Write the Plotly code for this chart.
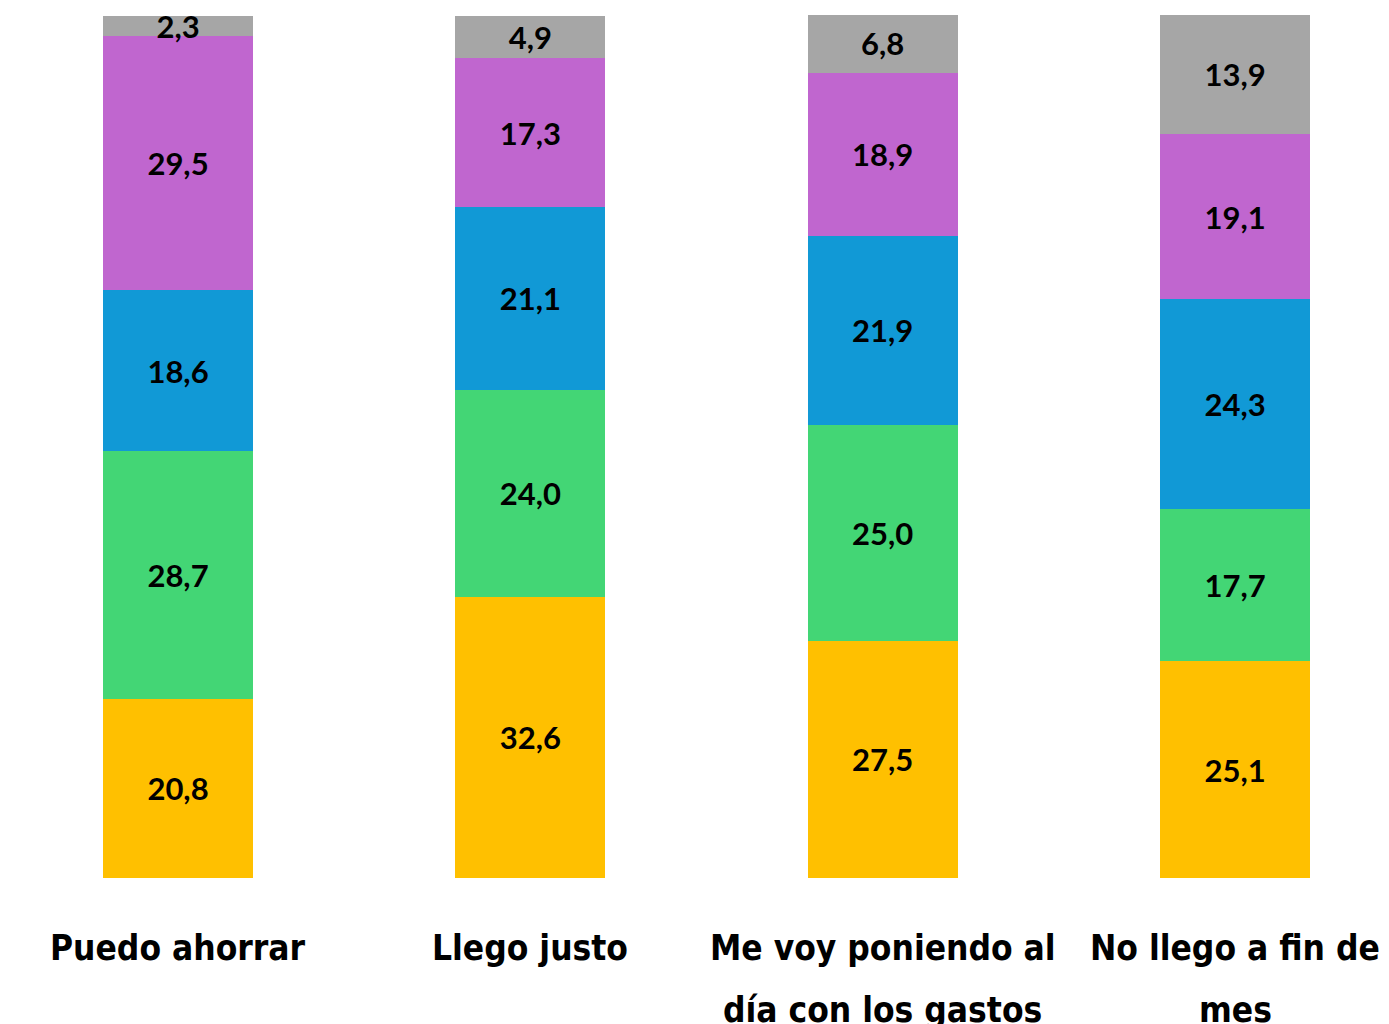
import plotly.graph_objects as go

# Categories (x axis) and the five stacked series, bottom to top
CATEGORIES = ["Puedo ahorrar", "Llego justo", "Me voy poniendo al<br>día con los gastos", "No llego a fin de<br>mes"]
SERIES_1 = [20.8, 32.6, 27.5, 25.1]   # yellow
SERIES_2 = [28.7, 24.0, 25.0, 17.7]   # green
SERIES_3 = [18.6, 21.1, 21.9, 24.3]   # blue
SERIES_4 = [29.5, 17.3, 18.9, 19.1]   # purple
SERIES_5 = [2.3, 4.9, 6.8, 13.9]      # gray

COLORS = ["#FFC000", "#43D675", "#1199D6", "#C066CF", "#A6A6A6"]

LABEL_FONT = "Lato, Carlito, 'Open Sans', sans-serif"
AXIS_FONT = "'DejaVu Sans Condensed', 'Liberation Sans Narrow', sans-serif"


def main():
    fig = go.Figure()
    x_idx = list(range(len(CATEGORIES)))
    for i, values in enumerate([SERIES_1, SERIES_2, SERIES_3, SERIES_4, SERIES_5]):
        fig.add_trace(go.Bar(
            x=x_idx,
            y=values,
            width=0.426,
            marker_color=COLORS[i],
            marker_line_width=0,
            texttemplate="%{y:.1f}",
            textposition="inside",
            insidetextanchor="middle",
            textangle=0,
            textfont=dict(family=LABEL_FONT, size=31, color="black", weight="bold"),
            showlegend=False,
            hoverinfo="skip",
        ))

    # category labels drawn as annotations so both lines can be spaced like the original
    for i, cat in enumerate(CATEGORIES):
        lines = cat.split("<br>")
        for j, line in enumerate(lines):
            fig.add_annotation(
                x=i, y=-0.081 - 0.072 * j, xref="x", yref="paper",
                text=line, showarrow=False, yanchor="middle",
                font=dict(family=AXIS_FONT, size=35, color="black", weight="bold"),
            )

    fig.update_layout(
        barmode="stack",
        width=1381,
        height=1016,
        margin=dict(l=0, r=0, t=7, b=146),
        paper_bgcolor="white",
        plot_bgcolor="white",
        separators=",.",
        uniformtext=dict(minsize=31, mode="show"),
        xaxis=dict(range=[-0.4825, 3.437], showticklabels=False, showgrid=False,
                   zeroline=False, showline=False, ticks=""),
        yaxis=dict(range=[0, 100], visible=False),
    )

    fig.write_html("out.html")


if __name__ == "__main__":
    main()
